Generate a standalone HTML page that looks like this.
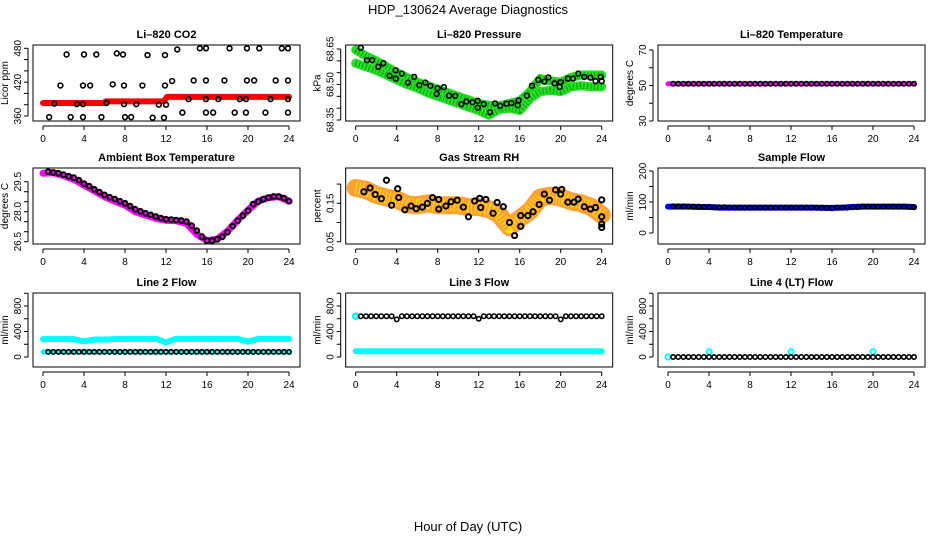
<!DOCTYPE html>
<html><head><meta charset="utf-8"><style>
body{margin:0;background:#fff}
svg{display:block;font-family:"Liberation Sans",Arial,sans-serif}
</style></head><body>
<svg id="chart" width="936" height="540" xmlns="http://www.w3.org/2000/svg">
<text x="468" y="14" text-anchor="middle" font-size="13">HDP_130624  Average Diagnostics</text>
<text x="468" y="531" text-anchor="middle" font-size="13">Hour of Day (UTC)</text>
</svg>
<script>
// ---- data ----
const hourly = [0,1,2,3,4,5,6,7,8,9,10,11,12,13,14,15,16,17,18,19,20,21,22,23,24];
const blackHours = [0.5,1,1.5,2,2.5,3,3.5,4,4.5,5,5.5,6,6.5,7,7.5,8,8.5,9,9.5,10,10.5,11,11.5,12,12.5,13,13.5,14,14.5,15,15.5,16,16.5,17,17.5,18,18.5,19,19.5,20,20.5,21,21.5,22,22.5,23,23.5,24];

// CO2
const co2RedHours = [0,6,6.1,11.8,12.1,24];
const co2Red = [383,383,386,386,394,394];
const co2BlackHours = [0.6,1.1,1.7,2.3,2.7,3.3,3.9,3.9,4,3.9,4.6,5.2,5.7,6.2,6.8,7.2,7.8,7.9,7.9,8,8.6,9.1,9.7,10.2,10.7,11.3,11.9,11.9,11.8,12,12.6,13.1,13.6,14.2,14.7,15.3,15.9,15.9,15.9,15.9,16.6,17.1,17.7,18.2,18.7,19.2,19.8,19.9,19.9,19.8,20.6,21.1,21.7,22.2,22.7,23.3,23.9,23.9,23.9,23.9];
const co2Black = [358,382,414,469,358,381,381,414,469,358,414,469,358,383,416,471,469,414,381,358,358,381,414,468,357,380,414,468,357,380,422,478,366,390,423,480,480,423,390,366,366,390,423,480,366,390,390,423,480,366,423,480,366,390,423,480,480,423,390,366];

// Pressure
const presUpper = [68.646,68.62,68.60,68.575,68.55,68.53,68.51,68.495,68.48,68.465,68.45,68.435,68.42,68.412,68.41,68.42,68.43,68.47,68.525,68.515,68.51,68.53,68.54,68.54,68.54];
const presLower = [68.59,68.575,68.56,68.54,68.52,68.50,68.485,68.465,68.45,68.435,68.42,68.405,68.39,68.37,68.395,68.40,68.39,68.44,68.47,68.475,68.47,68.49,68.495,68.49,68.49];
const presBlackHours = [0.5,1.1,1.6,2.2,2.7,3.3,3.9,3.9,4.5,5.1,5.7,6.2,6.8,7.3,8,7.9,8.6,9.1,9.7,10.3,10.8,11.4,11.9,11.9,12.5,13.1,13.6,14.1,14.7,15.2,15.8,15.9,16.7,17.2,17.8,18.4,18.8,19.4,19.9,20,20.7,21.2,21.7,22.3,22.9,23.4,23.9,24];
const presBlack = [68.655,68.603,68.603,68.575,68.59,68.537,68.56,68.525,68.546,68.508,68.532,68.497,68.508,68.494,68.484,68.46,68.489,68.453,68.452,68.417,68.428,68.425,68.431,68.402,68.417,68.383,68.42,68.41,68.419,68.422,68.413,68.433,68.453,68.495,68.519,68.512,68.53,68.505,68.49,68.51,68.525,68.525,68.546,68.532,68.529,68.514,68.532,68.514];

// Li-820 temperature
const tempMag = [51,51,51,51,51,51,51,51,51,51,51,51,51,51,51,51,51,51,51,51,51,51,51,51,51];
const tempBlack = [51,51,51,51,51,51,51,51,51,51,51,51,51,51,51,51,51,51,51,51,51,51,51,51,51,51,51,51,51,51,51,51,51,51,51,51,51,51,51,51,51,51,51,51,51,51,51,51];

// Ambient box temperature
const ambMag = [29.92,29.95,29.8,29.62,29.33,29.05,28.75,28.53,28.33,28.0,27.83,27.67,27.57,27.55,27.42,26.87,26.55,26.63,27.03,27.58,28.08,28.53,28.7,28.75,28.53];
const ambBlack = [30.0,29.96,29.92,29.85,29.77,29.7,29.58,29.4,29.28,29.12,28.98,28.84,28.72,28.63,28.52,28.42,28.28,28.12,28.02,27.92,27.84,27.76,27.68,27.62,27.6,27.58,27.56,27.5,27.3,27.05,26.75,26.55,26.55,26.62,26.75,26.98,27.28,27.55,27.8,28.05,28.38,28.5,28.62,28.7,28.76,28.75,28.68,28.53];

// Gas stream RH
const rhBand = [0.19,0.185,0.172,0.165,0.16,0.147,0.145,0.15,0.145,0.145,0.145,0.14,0.14,0.135,0.12,0.088,0.11,0.13,0.165,0.17,0.165,0.155,0.15,0.14,0.12];
const rhBlackHours = [0.8,1.4,1.9,2.5,3,3.5,4.1,4.2,4.8,5.4,5.9,6.5,7,7.5,8.1,8.1,8.8,9.3,9.9,10.5,11,11.6,12.1,12.2,12.7,13.4,13.8,14.4,15,15.5,16.1,16.1,16.8,17.3,17.9,18.4,18.9,19.5,20,20.1,20.7,21.3,21.7,22.3,22.9,23.4,24,24,24,24];
const rhBlack = [0.18,0.19,0.173,0.162,0.21,0.145,0.188,0.165,0.133,0.143,0.136,0.14,0.15,0.165,0.16,0.135,0.143,0.154,0.158,0.14,0.115,0.156,0.163,0.139,0.16,0.124,0.152,0.141,0.1,0.066,0.09,0.118,0.118,0.128,0.147,0.174,0.158,0.185,0.174,0.186,0.153,0.153,0.161,0.141,0.135,0.139,0.159,0.115,0.087,0.096];

// Sample flow
const sfBlue = [85,85,85,84,84,82,82,82,82,82,82,82,82,82,82,81,81,82,84,85,85,85,85,85,84];
const sfBlack = [86,86,86,85,85,85,84,84,83,83,83,82,82,82,82,82,82,82,82,82,82,82,82,82,82,82,82,82,82,82,81,80,82,82,82,83,84,85,85,85,85,85,85,85,85,85,84,83];

// Line 2 flow
const l2Cyan = [280,280,280,280,245,275,275,280,285,285,285,285,230,285,285,285,285,285,285,285,240,285,285,285,285];
const l2CyanLow = [80,80,80,80,80,80,80,80,80,80,80,80,80,80,80,80,80,80,80,80,80,80,80,80,80];
const l2Black = [80,80,80,80,80,80,80,80,80,80,80,80,80,80,80,80,80,80,80,80,80,80,80,80,80,80,80,80,80,80,80,80,80,80,80,80,80,80,80,80,80,80,80,80,80,80,80,80];

// Line 3 flow
const l3Cyan = [90,90,90,90,90,90,90,90,90,90,90,90,90,90,90,90,90,90,90,90,90,90,90,90,90];
const l3Black = [640,640,640,640,640,640,640,590,640,640,640,640,640,640,640,640,640,640,640,640,640,640,640,600,640,640,640,640,640,640,640,640,640,640,640,640,640,640,640,590,640,640,640,640,640,640,640,640];

// Line 4 flow
const l4Black = [0,0,0,0,0,0,0,0,0,0,0,0,0,0,0,0,0,0,0,0,0,0,0,0,0,0,0,0,0,0,0,0,0,0,0,0,0,0,0,0,0,0,0,0,0,0,0,0];
const l4SpikeHours = [0,4,12,20];
const l4Spike = [0,80,80,80];

const xTicks = [0,4,8,12,16,20,24];

// ---- drawing ----
const NS = "http://www.w3.org/2000/svg";
const svg = document.getElementById("chart");
function mk(tag, attrs, parent){
  const e = document.createElementNS(NS, tag);
  for (const k in attrs) e.setAttribute(k, attrs[k]);
  (parent||svg).appendChild(e);
  return e;
}
const colX0 = [43, 355.7, 668];
const pxh = 10.25;
const rowTop = [45, 168, 293], rowBot = [121, 244, 367];

function panel(cfg){
  const g = mk("g", {});
  
  
  const x0 = colX0[cfg.col], top = rowTop[cfg.row], bot = rowBot[cfg.row];
  const xs = h => x0 + h * pxh;
  const ys = v => cfg.y0px + (Number(v) - cfg.y0) * (cfg.y1px - cfg.y0px) / (cfg.y1 - cfg.y0);
  const left = x0 - 10, right = x0 + 24*pxh + 11;
  const box = mk("rect", {x:left, y:top, width:right-left, height:bot-top, fill:"none", stroke:"#000", "stroke-width":1}, g);
  
  
  const t = mk("text", {x:(left+right)/2, y:top-7, "text-anchor":"middle", "font-size":11, "font-weight":"bold"}, g);
  t.textContent = cfg.title;
  
  
  mk("line", {x1:xs(0), x2:xs(24), y1:bot+5, y2:bot+5, stroke:"#000"}, g);
  xTicks.forEach(v => {
    mk("line", {x1:xs(v), x2:xs(v), y1:bot+5, y2:bot+9, stroke:"#000"}, g);
    const tl = mk("text", {x:xs(v), y:bot+21, "text-anchor":"middle", "font-size":10}, g);
    tl.textContent = v;
    
    
  });
  const ax = left - 5;
  mk("line", {x1:ax, x2:ax, y1:ys(cfg.yTicks[0]), y2:ys(cfg.yTicks[cfg.yTicks.length-1]), stroke:"#000"}, g);
  cfg.yTicks.forEach(v => {
    mk("line", {x1:ax-4, x2:ax, y1:ys(v), y2:ys(v), stroke:"#000"}, g);
  });
  cfg.yLabels.forEach(v => {
    const tl = mk("text", {x:ax-7, y:ys(v), "text-anchor":"middle", "font-size":10, transform:`rotate(-90 ${ax-7} ${ys(v)})`}, g);
    tl.textContent = v;
    
    
  });
  const yl = mk("text", {x:ax-20, y:(top+bot)/2, "text-anchor":"middle", "font-size":10, transform:`rotate(-90 ${ax-20} ${(top+bot)/2})`}, g);
  yl.textContent = cfg.ylab;
  
  
  const clip = "clip" + cfg.name;
  const cp = mk("clipPath", {id:clip}, g);
  mk("rect", {x:left, y:top, width:right-left, height:bot-top}, cp);
  const pg = mk("g", {"clip-path":`url(#${clip})`}, g);
  cfg.series.forEach(s => {
    if (s.type === "band") {
      const pts = s.hours.map((h,i) => xs(h)+","+ys(s.vals[i])).join(" ");
      const pl = mk("polyline", {points:pts, fill:"none", stroke:s.color, "stroke-width":s.w, "stroke-linejoin":"round", "stroke-linecap":"round"}, pg);
      
      
      if (s.tex) {
        const pt = mk("polyline", {points:pts, fill:"none", stroke:s.tex, "stroke-width":s.w*0.7, "stroke-dasharray":"1 2.5", "stroke-linejoin":"round", opacity:s.texOp||1}, pg);
        
        
      }
    } else {
      s.hours.forEach((h,i) => {
        const c = mk("circle", {cx:xs(h), cy:ys(s.vals[i]), r:s.r||2.4, fill:"none", stroke:s.color, "stroke-width":s.sw||1.6}, pg);
        
        
      });
    }
  });
}

panel({name:"co2-panel", title:"Li\u2013820 CO2", ylab:"Licor ppm", col:0,row:0, y0:360,y0px:116,y1:480,y1px:48.3,
  yTicks:[360,380,400,420,440,460,480], yLabels:["360","420","480"],
  series:[{type:"band",name:"co2-red-series",hours:co2RedHours,vals:co2Red,color:"#f00",w:6},
          {type:"pts",name:"co2-black-point",hours:co2BlackHours,vals:co2Black,color:"#000"}]});
panel({name:"pressure-panel", title:"Li\u2013820 Pressure", ylab:"kPa", col:1,row:0, y0:68.35,y0px:120,y1:68.65,y1px:49,
  yTicks:[68.35,68.40,68.45,68.50,68.55,68.60,68.65], yLabels:["68.35","68.50","68.65"],
  series:[{type:"band",name:"pressure-upper-band",hours:hourly,vals:presUpper,color:"#22e022",tex:"#0a6a0a",texOp:0.6,w:9},
          {type:"band",name:"pressure-lower-band",hours:hourly,vals:presLower,color:"#22e022",tex:"#0a6a0a",texOp:0.6,w:9},
          {type:"pts",name:"pressure-black-point",hours:presBlackHours,vals:presBlack,color:"#000"}]});
panel({name:"li820-temp-panel", title:"Li\u2013820 Temperature", ylab:"degrees C", col:2,row:0, y0:30,y0px:121,y1:70,y1px:50,
  yTicks:[30,40,50,60,70], yLabels:["30","50","70"],
  series:[{type:"band",name:"temp-magenta-series",hours:hourly,vals:tempMag,color:"#f0f",w:5},
          {type:"pts",name:"temp-black-point",hours:blackHours,vals:tempBlack,color:"#000",r:2.2}]});
panel({name:"ambient-temp-panel", title:"Ambient Box Temperature", ylab:"degrees C", col:0,row:1, y0:26.5,y0px:241.7,y1:29.5,y1px:181.7,
  yTicks:[26.5,27,27.5,28,28.5,29,29.5], yLabels:["26.5","28.0","29.5"],
  series:[{type:"band",name:"ambient-magenta-series",hours:hourly,vals:ambMag,color:"#f0f",w:7},
          {type:"pts",name:"ambient-black-point",hours:blackHours,vals:ambBlack,color:"#000",r:2.4,sw:2}]});
panel({name:"rh-panel", title:"Gas Stream RH", ylab:"percent", col:1,row:1, y0:0.05,y0px:241.7,y1:0.15,y1px:203.3,
  yTicks:[0.05,0.10,0.15,0.20], yLabels:["0.05","0.15"],
  series:[{type:"band",name:"rh-orange-cloud",hours:hourly,vals:rhBand,color:"#ffa030",tex:"#ffe600",w:18},
          {type:"pts",name:"rh-black-point",hours:rhBlackHours,vals:rhBlack,color:"#000",r:2.6,sw:2}]});
panel({name:"sample-flow-panel", title:"Sample Flow", ylab:"ml/min", col:2,row:1, y0:0,y0px:233,y1:200,y1px:171,
  yTicks:[0,50,100,150,200], yLabels:["0","100","200"],
  series:[{type:"band",name:"sample-flow-blue-series",hours:hourly,vals:sfBlue,color:"#00f",w:6},
          {type:"pts",name:"sample-flow-black-point",hours:blackHours,vals:sfBlack,color:"#000",r:2.2}]});
panel({name:"line2-flow-panel", title:"Line 2 Flow", ylab:"ml/min", col:0,row:2, y0:0,y0px:357,y1:800,y1px:306,
  yTicks:[0,200,400,600,800,1000], yLabels:["0","400","800"],
  series:[{type:"band",name:"line2-cyan-high",hours:hourly,vals:l2Cyan,color:"#0ff",w:6},
          {type:"band",name:"line2-cyan-low",hours:hourly,vals:l2CyanLow,color:"#0ff",w:5},
          {type:"pts",name:"line2-black-point",hours:blackHours,vals:l2Black,color:"#000",r:2.2}]});
panel({name:"line3-flow-panel", title:"Line 3 Flow", ylab:"ml/min", col:1,row:2, y0:0,y0px:357,y1:800,y1px:306,
  yTicks:[0,200,400,600,800,1000], yLabels:["0","400","800"],
  series:[{type:"band",name:"line3-cyan-series",hours:hourly,vals:l3Cyan,color:"#0ff",w:6},
          {type:"pts",name:"line3-cyan-start",hours:[0],vals:[640],color:"#0ff",r:2.6,sw:2.5},
          {type:"pts",name:"line3-black-point",hours:blackHours,vals:l3Black,color:"#000",r:2.2}]});
panel({name:"line4-flow-panel", title:"Line 4 (LT) Flow", ylab:"ml/min", col:2,row:2, y0:0,y0px:357,y1:800,y1px:306,
  yTicks:[0,200,400,600,800,1000], yLabels:["0","400","800"],
  series:[{type:"pts",name:"line4-cyan-spike",hours:l4SpikeHours,vals:l4Spike,color:"#0ff",r:2.6,sw:2},
          {type:"pts",name:"line4-black-point",hours:blackHours,vals:l4Black,color:"#000",r:2.2}]});
</script>
</body></html>
